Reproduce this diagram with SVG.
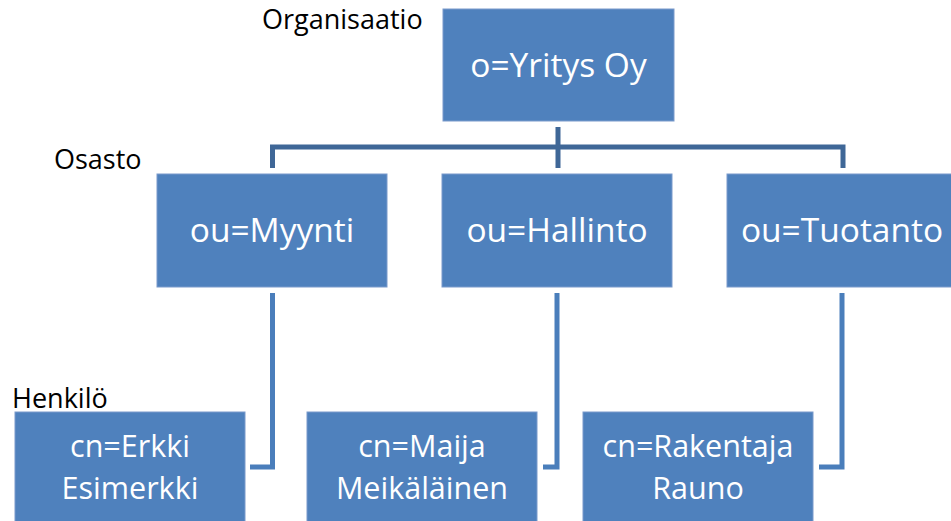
<svg xmlns="http://www.w3.org/2000/svg" width="951" height="521" viewBox="0 0 951 521">
<style>
.box{fill:#4F81BD;stroke:#7A9ACB;stroke-width:1}
.t{font-family:"Open Sans","Liberation Sans",sans-serif;font-size:33.5px;fill:#fff;text-anchor:middle}
.t2{font-family:"Open Sans","Liberation Sans",sans-serif;font-size:30.5px;fill:#fff;text-anchor:middle}
.lbl{font-family:"Open Sans","Liberation Sans",sans-serif;font-size:27px;fill:#000}
.c1{fill:none;stroke:#3F6797;stroke-width:5}
.c2{fill:none;stroke:#4A7EBB;stroke-width:5}
</style>
<rect width="951" height="521" fill="#fff"/>
<g id="connectors">
<path class="c1" d="M558 127V168M272.5 168V147H843V168"/>
<path class="c2" d="M272.5 293V467H250M557 293V467H543M842 293V467H819"/>
</g>
<g id="labels">
<text class="lbl" x="262" y="29">Organisaatio</text>
<text class="lbl" x="54" y="169">Osasto</text>
<text class="lbl" x="12" y="408">Henkilö</text>
</g>
<g id="n-yritys"><rect class="box" x="443" y="9" width="231" height="112"/><text class="t" x="558.5" y="77">o=Yritys Oy</text></g>
<g id="n-myynti"><rect class="box" x="157" y="174" width="230" height="113"/><text class="t" x="272" y="242">ou=Myynti</text></g>
<g id="n-hallinto"><rect class="box" x="442" y="174" width="230" height="113"/><text class="t" x="557" y="242">ou=Hallinto</text></g>
<g id="n-tuotanto"><rect class="box" x="727" y="174" width="230" height="113"/><text class="t" x="842" y="242">ou=Tuotanto</text></g>
<g id="n-erkki"><rect class="box" x="15" y="412" width="230" height="113"/><text class="t2" x="130" y="457">cn=Erkki<tspan x="130" dy="42">Esimerkki</tspan></text></g>
<g id="n-maija"><rect class="box" x="307" y="412" width="230" height="113"/><text class="t2" x="422" y="457">cn=Maija<tspan x="422" dy="42">Meikäläinen</tspan></text></g>
<g id="n-rakentaja"><rect class="box" x="583" y="412" width="230" height="113"/><text class="t2" x="698" y="457">cn=Rakentaja<tspan x="698" dy="42">Rauno</tspan></text></g>
</svg>
